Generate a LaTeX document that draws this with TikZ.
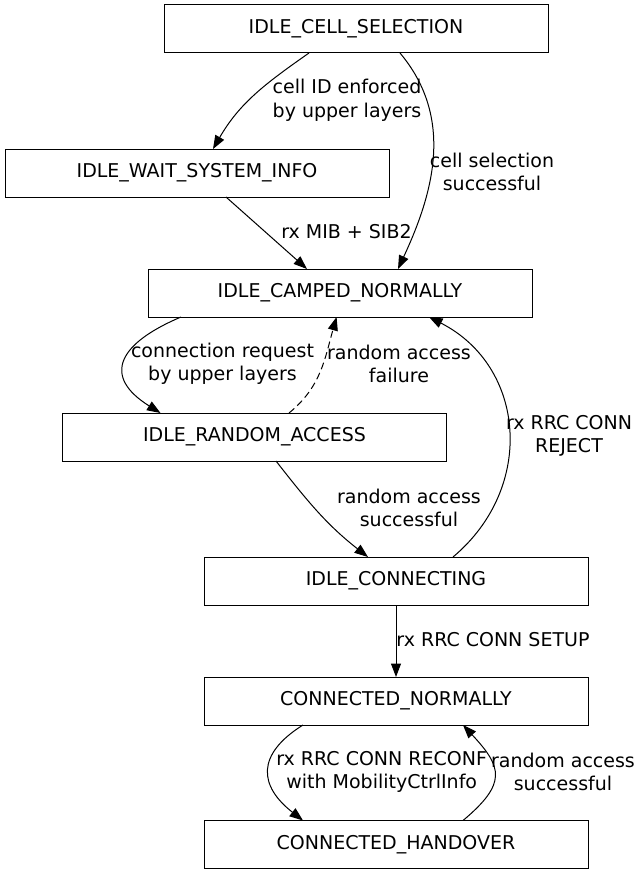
\documentclass[tikz,border=0pt]{standalone}
\usepackage{fontspec}
\setmainfont{DejaVu Sans}
\usetikzlibrary{positioning,arrows.meta}

\begin{document}
\begin{tikzpicture}[every node/.style={font=\fontsize{19}{23.5}\selectfont},
  state/.style={draw, line width=1pt, minimum width=384pt, minimum height=48pt, inner sep=0pt, outer sep=0pt},
  lbl/.style={align=center, inner sep=0pt},
  edge/.style={line width=1pt, -{Triangle[length=13.5pt,width=10pt]}}]
\useasboundingbox (0pt,0pt) rectangle (637pt,-875pt);
\node[state] (cell) at (356pt,-29pt) {IDLE\_CELL\_SELECTION};
\node[state, below=96pt of cell, xshift=-159pt] (wait) {IDLE\_WAIT\_SYSTEM\_INFO};
\node[state, below=72pt of wait, xshift=143pt] (camped) {IDLE\_CAMPED\_NORMALLY};
\node[state, below=96pt of camped, xshift=-85.5pt] (rach) {IDLE\_RANDOM\_ACCESS};
\node[state, below=96pt of rach, xshift=141.5pt] (conn) {IDLE\_CONNECTING};
\node[state, below=72pt of conn] (connnorm) {CONNECTED\_NORMALLY};
\node[state, below=95.5pt of connnorm] (ho) {CONNECTED\_HANDOVER};
% transitions
\draw[edge] ([xshift=-47pt]cell.south) to[out=215, in=60] ([xshift=16pt]wait.north);
\draw[edge] ([xshift=44pt]cell.south) to[out=-50, in=65] ([xshift=58pt]camped.north);
\draw[edge] ([xshift=29pt]wait.south) -- ([xshift=-33pt]camped.north);
\draw[edge] ([xshift=-159pt]camped.south) to[out=203, in=148, looseness=1.8] ([xshift=-94pt]rach.north);
\draw[edge, dash pattern=on 7pt off 4pt] ([xshift=34.5pt]rach.north) to[out=39, in=254] ([xshift=-3.4pt]camped.south);
\draw[edge] ([xshift=21.5pt]rach.south) to[out=-52, in=142] ([xshift=-28pt]conn.north);
\draw[edge] ([xshift=57pt]conn.north) to[out=40, in=-27, looseness=1.15] ([xshift=89pt]camped.south);
\draw[edge] (conn) -- (connnorm);
\draw[edge] ([xshift=-93pt]connnorm.south) to[out=212, in=142, looseness=1.5] ([xshift=-93pt]ho.north);
\draw[edge] ([xshift=67pt]ho.north) to[out=40, in=-47, looseness=1.55] ([xshift=67pt]connnorm.south);
% labels
\node[lbl] (lcellid) at (347pt,-100.5pt) {cell ID enforced\\by upper layers};
\node[lbl] (lcellsel) at (492pt,-172pt) {cell selection\\successful};
\node[lbl] (lmib) at (346.5pt,-232pt) {rx MIB + SIB2};
\node[lbl] (lconnreq) at (222.5pt,-364pt) {connection request\\by upper layers};
\node[lbl] (lrafail) at (399pt,-364pt) {random access\\failure};
\node[lbl] (lraok) at (409pt,-508pt) {random access\\successful};
\node[lbl] (lreject) at (569pt,-436pt) {rx RRC CONN\\REJECT};
\node[lbl] (lsetup) at (493pt,-639.5pt) {rx RRC CONN SETUP};
\node[lbl] (lreconf) at (381.7pt,-772pt) {rx RRC CONN RECONF\\with MobilityCtrlInfo};
\node[lbl] (lhook) at (563pt,-772pt) {random access\\successful};
\end{tikzpicture}
\end{document}
